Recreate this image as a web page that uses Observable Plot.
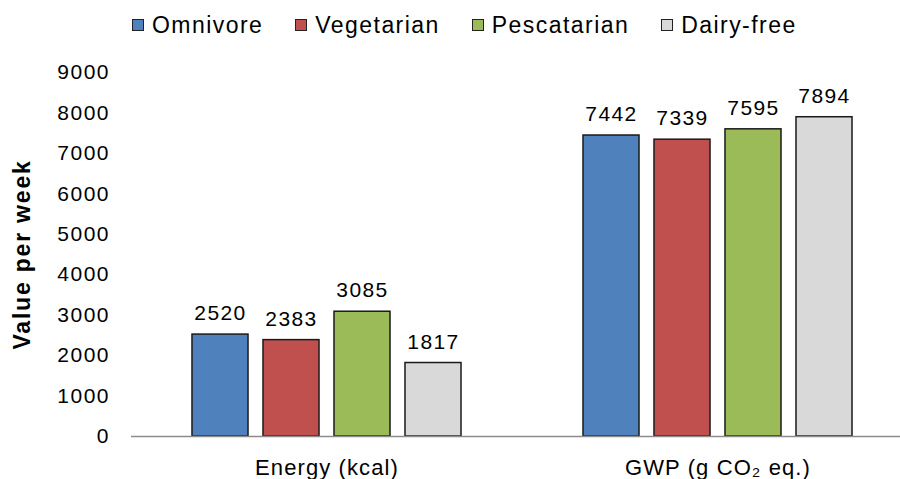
<!DOCTYPE html>
<html><head><meta charset="utf-8">
<script src="https://cdn.jsdelivr.net/npm/d3@7"></script>
<script src="https://cdn.jsdelivr.net/npm/@observablehq/plot@0.6"></script>
<style>
html,body{margin:0;padding:0;background:#fff;overflow:hidden;width:900px;height:479px}
body{font-family:"Liberation Sans",Arial,sans-serif;}
#legend{height:48px;display:flex;align-items:center;padding-left:132px;box-sizing:border-box;padding-top:2px}
.item{display:flex;align-items:center;margin-right:32px;font-size:23px;letter-spacing:1.45px;color:#000;white-space:nowrap}
.sw{width:12px;height:12px;border:1px solid #222;box-sizing:border-box;margin-right:8px;flex:none}
#chart svg g[aria-label="y-axis tick label"]{letter-spacing:1.5px}
#chart svg g[aria-label="y-axis label"]{font-weight:bold;font-size:23px;letter-spacing:1.8px}
#chart svg g[aria-label="fx-axis tick label"]{letter-spacing:1.1px}
#chart svg g[aria-label="text"]{letter-spacing:1.4px}
</style></head><body>
<div id="legend"></div><div id="chart"></div>
<script>
const categories = ["Energy (kcal)", "GWP (g CO\u2082 eq.)"];
const diets = ["Omnivore", "Vegetarian", "Pescatarian", "Dairy-free"];
const energyValues = [2520, 2383, 3085, 1817];
const gwpValues = [7442, 7339, 7595, 7894];
const dietColors = ["#4F81BD", "#C0504D", "#9BBB59", "#D9D9D9"];
const yTicks = [0, 1000, 2000, 3000, 4000, 5000, 6000, 7000, 8000, 9000];
const yTitle = "Value per week";

const series = [energyValues, gwpValues];
const data = categories.flatMap((c, i) => diets.map((d, j) => ({category: c, diet: d, value: series[i][j]})));

const legend = document.getElementById("legend");
diets.forEach((d, i) => {
  const it = document.createElement("div");
  it.className = "item";
  const sw = document.createElement("span");
  sw.className = "sw";
  sw.style.background = dietColors[i];
  it.appendChild(sw);
  it.appendChild(document.createTextNode(d));
  legend.appendChild(it);
});

const font = '"Liberation Sans", Arial, sans-serif';
const plot = Plot.plot({
  width: 900, height: 431,
  marginTop: 24, marginBottom: 43, marginLeft: 131, marginRight: -13,
  style: {fontFamily: font, fontSize: "21px", color: "#000", background: "#fff", overflow: "visible"},
  fx: {domain: categories, padding: 0, label: null},
  x: {domain: diets, paddingInner: 0.211, paddingOuter: 0.859, axis: null, round: false},
  y: {domain: [0, 9000], label: null},
  color: {domain: diets, range: dietColors},
  marks: [
    Plot.axisY({ticks: yTicks, tickSize: 0, tickPadding: 21.5, tickFormat: d => String(d), fontSize: 21,
      label: yTitle, labelAnchor: "center", labelArrow: "none", labelOffset: 118}),
    Plot.axisFx({anchor: "bottom", tickSize: 0, tickPadding: 23, fontSize: 22, label: null}),
    Plot.barY(data, {fx: "category", x: "diet", y: "value", fill: "diet", stroke: "#1a1a1a", strokeWidth: 1.5}),
    Plot.text(data, {fx: "category", x: "diet", y: "value", text: d => String(d.value), dy: -21, lineAnchor: "middle", fontSize: 21, fill: "#000"}),
    Plot.ruleY([0], {stroke: "#8c8c8c", strokeWidth: 1.5})
  ]
});
document.getElementById("chart").appendChild(plot);
</script>
</body></html>
